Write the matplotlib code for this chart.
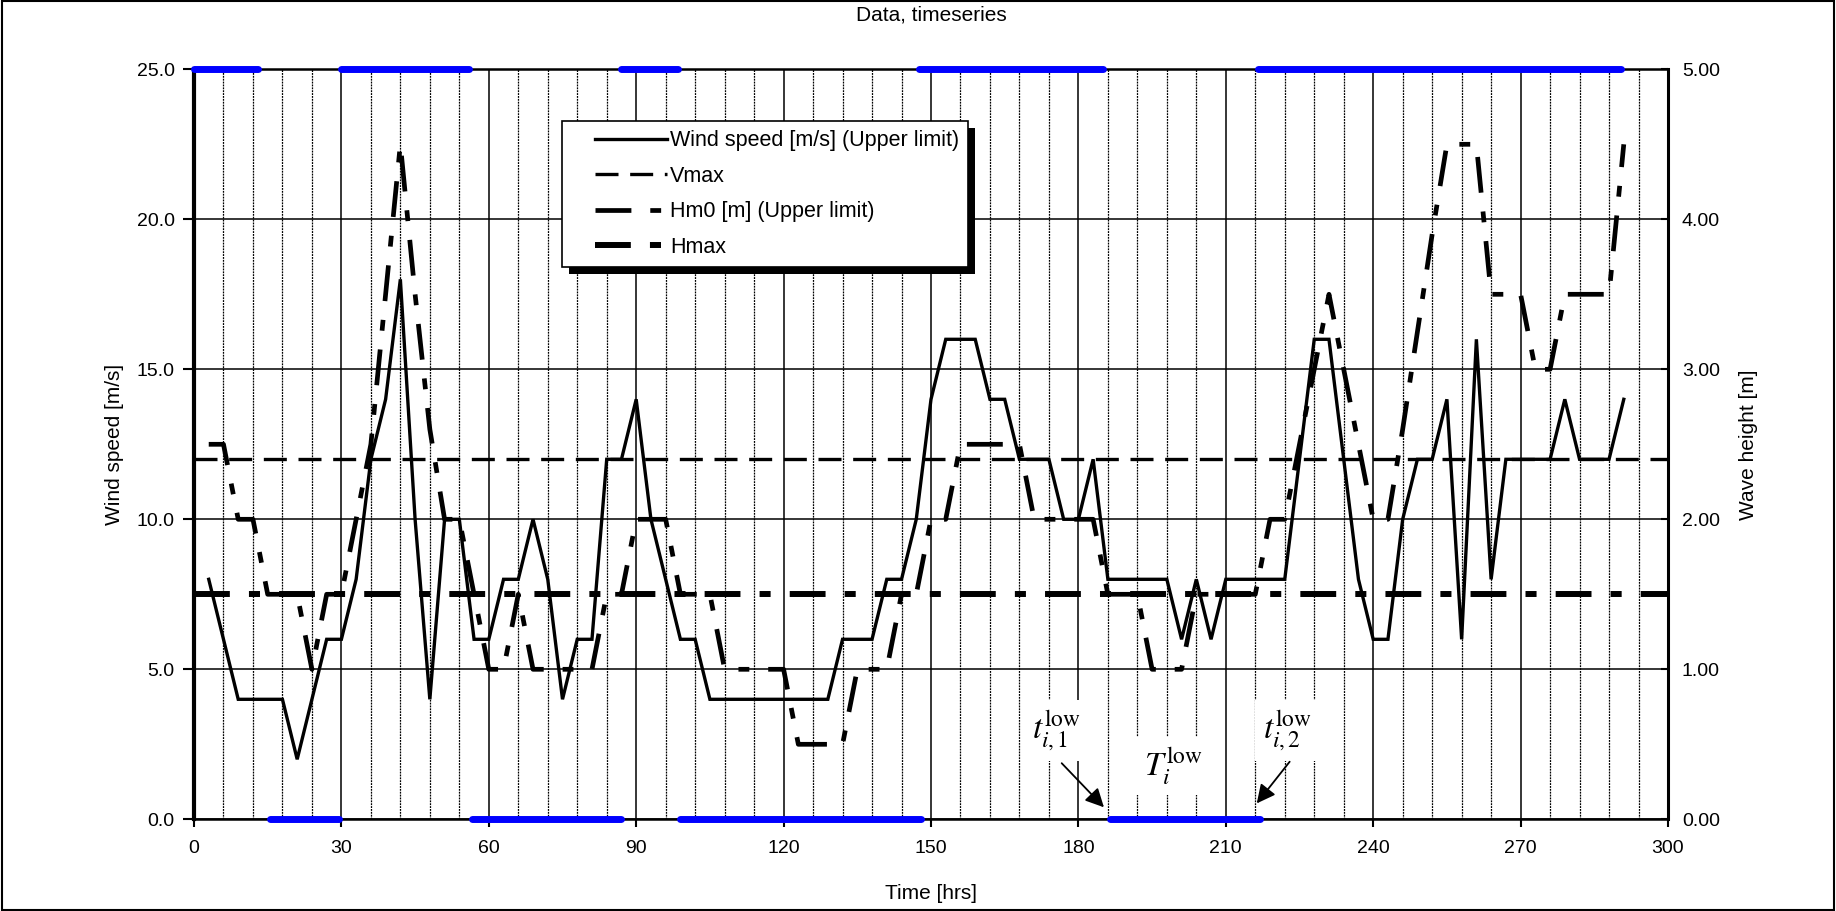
import matplotlib
matplotlib.use("Agg")
import matplotlib.pyplot as plt
from matplotlib.lines import Line2D
from matplotlib.legend_handler import HandlerLine2D
from matplotlib.patches import Rectangle
from matplotlib.ticker import MultipleLocator, FormatStrFormatter
from matplotlib.transforms import IdentityTransform

plt.rcParams['font.family'] = ['Liberation Sans', 'DejaVu Sans']
plt.rcParams['mathtext.fontset'] = 'stix'

# time axis: samples every 3 hours
hours = list(range(3, 292, 3))

wind = [8, 6, 4, 4, 4, 4, 2, 4, 6, 6,
        8, 12, 14, 18, 10, 4, 10, 10, 6, 6,
        8, 8, 10, 8, 4, 6, 6, 12, 12, 14,
        10, 8, 6, 6, 4, 4, 4, 4, 4, 4,
        4, 4, 4, 6, 6, 6, 8, 8, 10, 14,
        16, 16, 16, 14, 14, 12, 12, 12, 10, 10,
        12, 8, 8, 8, 8, 8, 6, 8, 6, 8,
        8, 8, 8, 8, 12, 16, 16, 12, 8, 6,
        6, 10, 12, 12, 14, 6, 16, 8, 12, 12,
        12, 12, 14, 12, 12, 12, 14]

hm0 = [2.5, 2.5, 2.0, 2.0, 1.5, 1.5, 1.5, 1.0, 1.5, 1.5,
       2.0, 2.5, 3.5, 4.5, 3.5, 2.6, 2.0, 2.0, 1.5, 1.0,
       1.0, 1.5, 1.0, 1.0, 1.0, 1.0, 1.0, 1.5, 1.5, 2.0,
       2.0, 2.0, 1.5, 1.5, 1.5, 1.0, 1.0, 1.0, 1.0, 1.0,
       0.5, 0.5, 0.5, 0.5, 1.0, 1.0, 1.0, 1.5, 1.5, 2.0,
       2.0, 2.5, 2.5, 2.5, 2.5, 2.5, 2.0, 2.0, 2.0, 2.0,
       2.0, 1.5, 1.5, 1.5, 1.0, 1.0, 1.0, 1.5, 1.5, 1.5,
       1.5, 1.5, 2.0, 2.0, 2.5, 3.0, 3.5, 3.0, 2.5, 2.0,
       2.0, 2.6, 3.25, 3.9, 4.5, 4.5, 4.5, 3.5, 3.5, 3.5,
       3.0, 3.0, 3.5, 3.5, 3.5, 3.5, 4.5]

vmax = 12.0
hmax = 1.5

# periods (start, end) in hours
high_periods = [(0, 13), (30, 56), (87, 98.5), (147.5, 185), (216.5, 290.5)]
low_periods = [(15.5, 29.5), (56.5, 87), (99, 148), (186.5, 217)]

W, H = 1836, 911
fig = plt.figure(figsize=(W / 100, H / 100), dpi=100)
ax = fig.add_axes([194 / W, 1 - 819.3 / H, (1668 - 194) / W, (819.3 - 69.3) / H])
ax2 = ax.twinx()

ax.set_xlim(0, 300)
ax.set_ylim(0, 25)
ax2.set_ylim(0, 5)

ax.set_xticks(range(0, 301, 30))
ax.xaxis.set_minor_locator(MultipleLocator(6))
ax.set_yticks([0, 5, 10, 15, 20, 25])
ax2.set_yticks([0, 1, 2, 3, 4, 5])
ax.yaxis.set_major_formatter(FormatStrFormatter('%.1f'))
ax2.yaxis.set_major_formatter(FormatStrFormatter('%.2f'))

ax.set_axisbelow(True)
ax.grid(which='major', axis='both', color='black', lw=1.1)
ax.grid(which='minor', axis='x', color='black', lw=0.9, linestyle=(0, (1.5, 0.8)))

ax.tick_params(axis='y', direction='out', length=8, width=1.5, labelsize=14, pad=6)
ax.tick_params(axis='x', which='major', direction='out', length=6, width=1.5, labelsize=14, pad=9)
ax.tick_params(axis='x', which='minor', length=0)
ax2.tick_params(axis='y', direction='in', length=5, width=1.5, labelsize=14, pad=10)

ax.spines['left'].set_linewidth(3)
ax.spines['bottom'].set_linewidth(1.8)
ax.spines['top'].set_linewidth(1.8)
ax.spines['right'].set_visible(False)
for s in ['left', 'top', 'bottom']:
    ax2.spines[s].set_visible(False)
ax2.spines['right'].set_linewidth(2.2)

l_wind, = ax.plot(hours, wind, color='black', lw=2.4, solid_joinstyle='miter', zorder=3,
                  label='Wind speed [m/s] (Upper limit)')
l_vmax = ax.axhline(vmax, color='black', lw=2.4, dashes=(6.9, 3.5), zorder=3, label='Vmax')
l_hm0, = ax2.plot(hours, hm0, color='black', lw=3.4, dashes=(7.6, 4, 2.3, 4),
                  label='Hm0 [m] (Upper limit)')
l_hmax = ax2.axhline(hmax, color='black', lw=4.3, dashes=(6, 3.2, 1.85, 3.2), label='Hmax')

for a, b in high_periods:
    ax.plot([a, b], [25, 25], color='#0000ff', lw=5, solid_capstyle='round', clip_on=False, zorder=6)
for a, b in low_periods:
    ax.plot([a, b], [0, 0], color='#0000ff', lw=5, solid_capstyle='round', clip_on=False, zorder=6)

ax.set_title('Data, timeseries', fontsize=15, pad=35)
ax.set_xlabel('Time [hrs]', fontsize=15, labelpad=19)
ax.set_ylabel('Wind speed [m/s]', fontsize=15, labelpad=9)
ax2.set_ylabel('Wave height [m]', fontsize=15, labelpad=14)

# annotations of the low period
box = dict(facecolor='white', edgecolor='none', pad=6)
ax.text(175.6, 2.96, r'$t_{i,1}^{\mathrm{low}}$', fontsize=24, ha='center', va='center', bbox=box, zorder=4)
ax.text(199.3, 1.78, r'$T_{i}^{\mathrm{low}}$', fontsize=24, ha='center', va='center', bbox=box, zorder=4)
ax.text(222.6, 2.96, r'$t_{i,2}^{\mathrm{low}}$', fontsize=24, ha='center', va='center', bbox=box, zorder=4)
arrow = dict(arrowstyle='-|>', color='black', lw=1.3, mutation_scale=28, shrinkA=0, shrinkB=0)
ax.annotate('', xy=(185.2, 0.4), xytext=(176.6, 1.87), arrowprops=arrow, zorder=5)
ax.annotate('', xy=(216.3, 0.53), xytext=(223.0, 1.92), arrowprops=arrow, zorder=5)

handles = [l_wind, l_vmax, l_hm0, l_hmax]
leg = ax2.legend(handles, [l.get_label() for l in handles],
                 loc='upper left', bbox_to_anchor=(562 / W, 1 - 121 / H), bbox_transform=fig.transFigure,
                 borderaxespad=0, fancybox=False, framealpha=1, edgecolor='black', fontsize=15.5,
                 handlelength=4.45, handletextpad=0.14, borderpad=0.42, labelspacing=0.68,
                 handler_map={Line2D: HandlerLine2D(xpad=1.09)})
leg.get_frame().set_linewidth(1.2)

fig.canvas.draw()
bb = leg.get_window_extent()
shadow = Rectangle((bb.x0 + 6.5, bb.y0 - 6.5), bb.width, bb.height, transform=IdentityTransform(),
                   facecolor='black', edgecolor='none', zorder=leg.get_zorder() - 0.1)
ax2.add_artist(shadow)

fig.patches.append(Rectangle((0.001, 0.001), 0.998, 0.998, transform=fig.transFigure,
                             fill=False, edgecolor='black', lw=1.5))

fig.savefig('out.png', dpi=100)
